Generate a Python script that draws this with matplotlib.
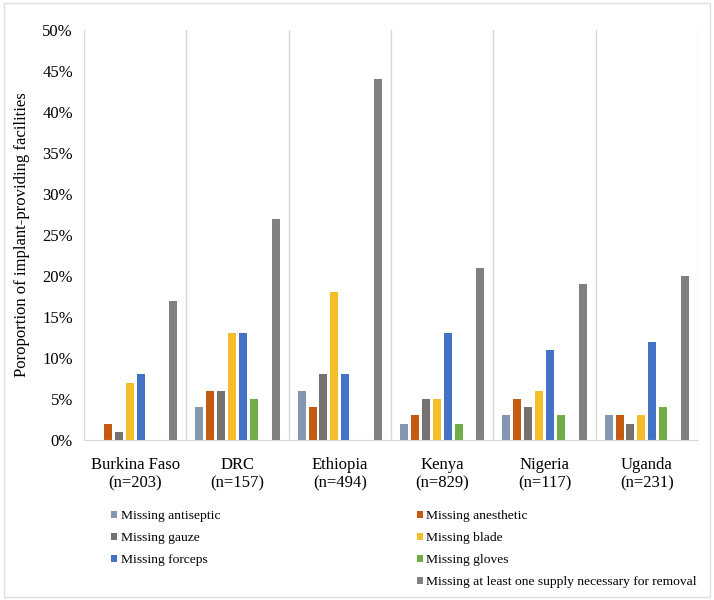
import matplotlib
matplotlib.use("Agg")
import matplotlib.pyplot as plt
from matplotlib.patches import Rectangle, Patch
import numpy as np

plt.rcParams["font.family"] = ["Liberation Serif", "DejaVu Serif"]

countries = ["Burkina Faso\n(n=203)", "DRC\n(n=157)", "Ethiopia\n(n=494)",
             "Kenya\n(n=829)", "Nigeria\n(n=117)", "Uganda\n(n=231)"]

antiseptic = [0, 4, 6, 2, 3, 3]
anesthetic = [2, 6, 4, 3, 5, 3]
gauze = [1, 6, 8, 5, 4, 2]
blade = [7, 13, 18, 5, 6, 3]
forceps = [8, 13, 8, 13, 11, 12]
gloves = [0, 5, 0, 2, 3, 4]
blank = [0, 0, 0, 0, 0, 0]
at_least_one = [17, 27, 44, 21, 19, 20]

series = [
    ("Missing antiseptic", antiseptic, "#8497B0"),
    ("Missing anesthetic", anesthetic, "#C55A11"),
    ("Missing gauze", gauze, "#767171"),
    ("Missing blade", blade, "#F6BD2B"),
    ("Missing forceps", forceps, "#4472C4"),
    ("Missing gloves", gloves, "#70AD47"),
    ("", blank, "none"),
    ("Missing at least one supply necessary for removal", at_least_one, "#808080"),
]

fig = plt.figure(figsize=(7.14, 6.0), dpi=100)
ax = fig.add_axes([84 / 714, 1 - 440 / 600, (698 - 84) / 714, (440 - 30) / 600])

x = np.arange(len(countries))
step = 0.1066
width = 0.078
handles = {}
for i, (name, vals, col) in enumerate(series):
    ax.bar(x + (i - 3.5) * step, np.array(vals) / 100.0, width=width,
           color=col, linewidth=0)
    handles[i] = Patch(facecolor=col, edgecolor="none")

ax.set_xlim(-0.5, len(countries) - 0.5)
ax.set_ylim(0, 0.5)
yt = np.arange(0, 0.51, 0.05)
ax.set_yticks(yt)
ax.set_yticklabels([f"{int(round(v * 100))}%" for v in yt])
ax.set_xticks(x)
ax.set_xticklabels(countries)
ax.set_xticks(np.arange(-0.5, len(countries)), minor=True)
ax.grid(which="minor", axis="x", color="#D9D9D9", lw=1)
ax.tick_params(which="both", length=0, labelsize=12)
ax.tick_params(axis="x", pad=12)
ax.tick_params(axis="y", pad=8)
for s in ("top", "right", "left"):
    ax.spines[s].set_visible(False)
ax.spines["bottom"].set_color("#D9D9D9")
ax.set_ylabel("Poroportion of implant-providing facilities", fontsize=12, labelpad=9)

# legend, 2 columns filled column-wise so rows read as in the original
order = [0, 2, 4, 6, 1, 3, 5, 7]
fig.legend([handles[i] for i in order], [series[i][0] for i in order],
           ncol=2, loc="upper left", bbox_to_anchor=(99 / 714, 1 - 498 / 600),
           frameon=False, fontsize=9.7, handlelength=0.45, handleheight=0.45,
           handletextpad=0.25, columnspacing=14.6, labelspacing=0.75)

fig.patches.append(Rectangle((4 / 714, 3 / 600), 706 / 714, 594 / 600,
                             transform=fig.transFigure, fill=False,
                             edgecolor="#E0E0E0", lw=1))

fig.savefig("out.png", dpi=100, facecolor="white")
